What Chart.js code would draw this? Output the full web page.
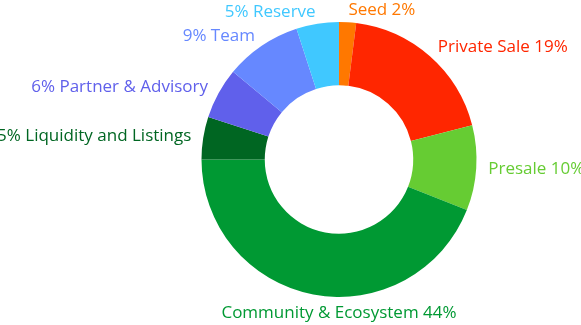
<!DOCTYPE html>
<html>
<head>
<meta charset="utf-8">
<script src="https://cdn.jsdelivr.net/npm/chart.js@4/dist/chart.umd.min.js"></script>
<style>
  html, body { margin: 0; padding: 0; background: #ffffff; }
  #wrap { position: relative; width: 581px; height: 325px; }
</style>
</head>
<body>
<div id="wrap"><canvas id="tokenChart"></canvas></div>
<script>
const labels = [
  "Seed",
  "Private Sale",
  "Presale",
  "Community & Ecosystem",
  "Liquidity and Listings",
  "Partner & Advisory",
  "Team",
  "Reserve",
];
const shares = [2, 19, 10, 44, 5, 6, 9, 5];
const colors = [
  "#ff7800",
  "#ff2600",
  "#66cc33",
  "#009933",
  "#006622",
  "#6060eb",
  "#6688ff",
  "#40c8ff",
];

// draws "name pct%" beside each slice, flipped to "pct% name" on the left side
const sliceLabels = {
  id: "sliceLabels",
  afterDatasetsDraw(chart) {
    const ctx = chart.ctx;
    const arcs = chart.getDatasetMeta(0).data;
    ctx.save();
    ctx.font = "17px 'Open Sans'";
    ctx.textBaseline = "middle";
    arcs.forEach((arc, i) => {
      const { x, y, startAngle, endAngle, outerRadius } = arc.getProps(
        ["x", "y", "startAngle", "endAngle", "outerRadius"], true);
      const mid = (startAngle + endAngle) / 2;
      const r = outerRadius + 12;
      const cos = Math.cos(mid);
      const sin = Math.sin(mid);
      let lx = x + cos * r;
      let ly = y + sin * r;
      let text;
      if (sin > 0.9) {
        // label under the ring: centred, pushed clear of the arc
        ctx.textAlign = "center";
        lx = x;
        ly = y + sin * (r + 7);
        text = `${labels[i]} ${shares[i]}%`;
      } else if (cos >= 0) {
        ctx.textAlign = "left";
        text = `${labels[i]} ${shares[i]}%`;
      } else {
        ctx.textAlign = "right";
        text = `${shares[i]}% ${labels[i]}`;
      }
      ctx.fillStyle = colors[i];
      ctx.fillText(text, lx, ly);
    });
    ctx.restore();
  },
};

new Chart(document.getElementById("tokenChart"), {
  type: "doughnut",
  data: {
    labels,
    datasets: [
      {
        data: shares,
        backgroundColor: colors,
        borderWidth: 0,
      },
    ],
  },
  options: {
    responsive: true,
    maintainAspectRatio: false,
    animation: false,
    cutout: "54%",
    layout: {
      padding: { top: 22, bottom: 28, left: 97, right: 0 },
    },
    plugins: {
      legend: { display: false },
      tooltip: { enabled: false },
    },
  },
  plugins: [sliceLabels],
});
</script>
</body>
</html>
